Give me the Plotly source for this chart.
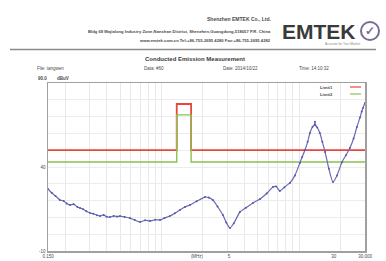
import plotly.graph_objects as go

# ---------------- data ----------------
freq_mhz = [0.150, 0.160, 0.170, 0.183, 0.195, 0.205, 0.217, 0.230, 0.245, 0.256,
            0.270, 0.285, 0.303, 0.320, 0.340, 0.358, 0.380, 0.400, 0.423, 0.450,
            0.475, 0.500, 0.540, 0.590, 0.640, 0.700, 0.760, 0.825, 0.900, 0.975,
            1.05, 1.15, 1.25, 1.36, 1.48, 1.61, 1.80, 2.07, 2.20, 2.36,
            2.55, 2.79, 2.95, 3.14, 3.35, 3.71, 4.10, 4.61, 5.20, 5.80,
            6.44, 6.80, 7.23, 7.80, 8.55, 9.30, 10.1, 10.5, 11.0, 11.5,
            11.95, 12.5, 12.9, 13.0, 13.1, 13.5, 14.1, 14.7, 15.4, 16.4,
            17.55, 18.8, 20.4, 21.8, 23.3, 24.8, 26.2, 27.6, 28.4, 29.0, 30.0]
level_dbuv = [26.9, 24.5, 22.8, 20.4, 19.8, 18.3, 17.4, 17.9, 16.2, 15.6,
              14.9, 13.6, 12.6, 12.2, 11.3, 10.8, 11.5, 10.4, 10.2, 10.9,
              10.5, 10.8, 10.3, 9.6, 8.4, 7.3, 8.3, 7.9, 8.6, 8.5,
              9.6, 10.8, 12.5, 14.4, 16.2, 17.4, 19.6, 22.1, 21.8, 20.4,
              16.5, 11.4, 7.0, 3.7, 6.5, 13.2, 15.8, 18.6, 21.0, 24.2,
              28.1, 28.4, 25.7, 28.0, 30.5, 35.0, 42.4, 46.0, 50.1, 55.0,
              60.2, 64.0, 65.0, 67.0, 64.8, 63.5, 60.2, 55.0, 48.9, 39.0,
              31.1, 35.0, 42.9, 47.0, 51.3, 57.0, 63.8, 69.5, 73.0, 75.1, 78.1]

limit1_freq = [0.150, 1.29, 1.29, 1.64, 1.64, 30.0]
limit1_val = [50.0, 50.0, 77.5, 77.5, 50.0, 50.0]
limit2_freq = [0.150, 1.29, 1.29, 1.64, 1.64, 30.0]
limit2_val = [43.0, 43.0, 71.0, 71.0, 43.0, 43.0]

x_tick_vals = [0.150, 1.81, 3.09, 17.8, 30.0]
x_tick_text = ["0.150", "(MHz)", "5", "30", "30.000"]
x_grid_vals = [0.2, 0.3, 0.4, 0.5, 0.6, 0.7, 0.8, 0.9, 1, 2, 3, 4, 5, 6, 7, 8, 9, 10, 20]
y_tick_vals = [40, -10]
y_tick_text = ["40", "-10"]
y_grid_vals = [0, 10, 20, 30, 40, 50, 60, 70, 80]

# ---------------- layout geometry ----------------
W, H = 386, 261
L, R, T, B = 48, 365, 83, 251


def xp(px):
    return (px - L) / (R - L)


def yp(py):
    return (B - py) / (B - T)


FONT = "Liberation Sans"
TXT = "#4a4a4a"

fig = go.Figure()
fig.add_trace(go.Scatter(x=limit1_freq, y=limit1_val, mode="lines",
                         line=dict(color="#e8473c", width=1.8), hoverinfo="skip"))
fig.add_trace(go.Scatter(x=limit2_freq, y=limit2_val, mode="lines",
                         line=dict(color="#8cc152", width=1.4), hoverinfo="skip"))
fig.add_trace(go.Scatter(x=freq_mhz, y=level_dbuv, mode="lines+markers",
                         line=dict(color="#6a6ab4", width=1.2, shape="spline", smoothing=0.6),
                         marker=dict(size=2, color="#5a5aa8"), hoverinfo="skip"))

fig.update_layout(
    width=W, height=H,
    margin=dict(l=L, r=W - R, t=T, b=H - B, autoexpand=False),
    paper_bgcolor="white", plot_bgcolor="white",
    showlegend=False,
    font=dict(family=FONT, size=5, color=TXT),
    xaxis=dict(type="log", range=[-0.82391, 1.47712],
               tickmode="array", tickvals=x_tick_vals, ticktext=x_tick_text,
               showgrid=False, ticks="", tickfont=dict(size=4.5, color=TXT),
               showline=True, linecolor="#a0a0a0", linewidth=1.5, mirror=True,
               zeroline=False, ticklabelstandoff=0, automargin=False,
               minor=dict(tickmode="array", tickvals=x_grid_vals, showgrid=True,
                          gridcolor="#e8e8e8", gridwidth=1, ticks="")),
    yaxis=dict(range=[-10, 90],
               tickmode="array", tickvals=y_tick_vals, ticktext=y_tick_text,
               showgrid=False, ticks="", tickfont=dict(size=4.5, color=TXT),
               showline=True, linecolor="#a0a0a0", linewidth=1.5, mirror=True,
               zeroline=False, automargin=False,
               minor=dict(tickmode="array", tickvals=y_grid_vals, showgrid=True,
                          gridcolor="#ececec", gridwidth=1, ticks="")),
)


def txt(x, y, s, size=4.5, anchor="left", color=TXT, bold=False):
    fig.add_annotation(x=xp(x), y=yp(y), xref="paper", yref="paper", text=("<b>%s</b>" % s) if bold else s,
                       showarrow=False, xanchor=anchor, yanchor="middle", borderpad=0,
                       font=dict(family=FONT, size=size, color=color))


# header
txt(272, 19, "Shenzhen EMTEK Co., Ltd.", size=5, anchor="right", bold=True)
txt(272, 31, "Bldg 69 Majialong Industry Zone,Nanshan District, Shenzhen,Guangdong,518057 P.R. China",
    size=4.2, anchor="right", bold=True)
txt(272, 40, "www.emtek.com.cn Tel:+86-755-2695 4280 Fax:+86-755-2695 4282", size=4.2, anchor="right", bold=True)
txt(281, 31, "EMTEK", size=21, anchor="left", color="#3a3a3a", bold=True)
txt(342, 44, "Accurate for Your Market", size=3.2, anchor="center", color="#888888")
fig.add_shape(type="circle", xref="paper", yref="paper",
              x0=xp(361), x1=xp(379), y0=yp(40), y1=yp(22),
              line=dict(color="#7a6c96", width=2))
txt(370, 31, "✓", size=12, anchor="center", color="#7a6c96", bold=True)
fig.add_shape(type="line", xref="paper", yref="paper",
              x0=xp(10), x1=xp(376), y0=yp(49.5), y1=yp(49.5),
              line=dict(color="#8a8a8a", width=1.5))

# title rows
txt(195, 59, "Conducted Emission Measurement", size=6, anchor="center", color="#3a3a3a", bold=True)
txt(36, 68, "File: tangwen", size=4.5)
txt(143, 68, "Data: #60", size=4.5)
txt(222, 68, "Date: 2014/10/22", size=4.5)
txt(298, 68, "Time: 14:10:32", size=4.5)
txt(37, 78, "90.0", size=4.5, bold=True)
txt(56, 78, "dBuV", size=4.5, bold=True)

# legend
txt(334, 87, "Limit1", size=4.2, anchor="right", bold=True)
txt(334, 94, "Limit2", size=4.2, anchor="right", bold=True)
fig.add_shape(type="line", xref="paper", yref="paper", x0=xp(350), x1=xp(361), y0=yp(87), y1=yp(87),
              line=dict(color="#e8473c", width=1.2))
fig.add_shape(type="line", xref="paper", yref="paper", x0=xp(350), x1=xp(361), y0=yp(94), y1=yp(94),
              line=dict(color="#8cc152", width=1.2))

fig.write_html("out.html", config={"displayModeBar": False, "staticPlot": True},
               post_script="document.body.style.margin='0';")
